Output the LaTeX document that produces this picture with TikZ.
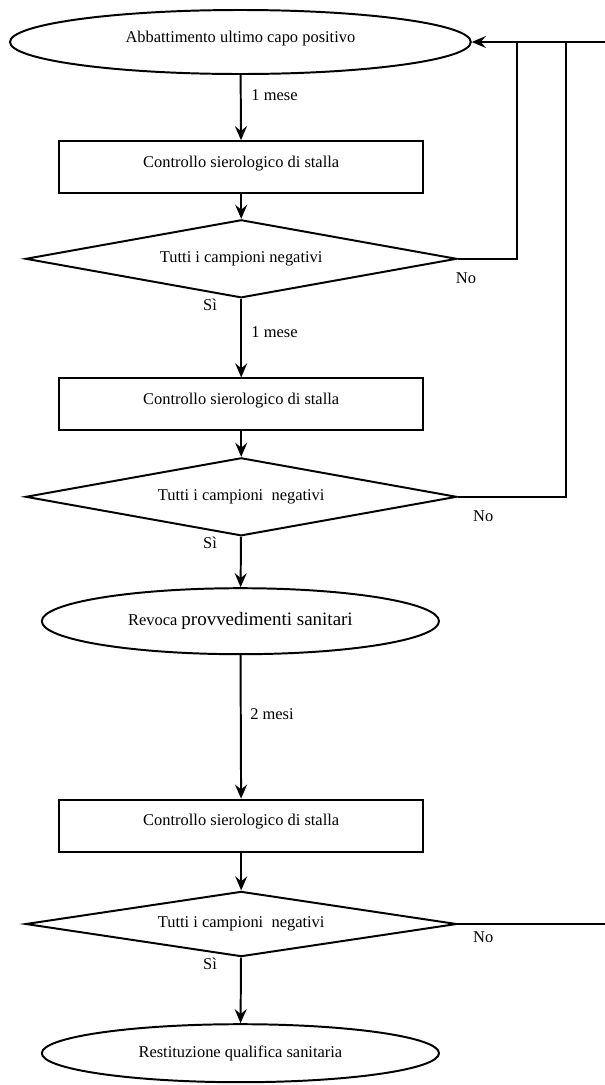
\documentclass[tikz,border=0pt]{standalone}
\usepackage{fontspec}
\setmainfont{Liberation Serif}
\usepackage{tikz}
\usetikzlibrary{shapes.geometric}
\usetikzlibrary{arrows.meta}
\pgfdeclarelayer{edgelayer}
\pgfdeclarelayer{nodelayer}
\pgfsetlayers{edgelayer,nodelayer,main}
\tikzstyle{every node}=[font=\fontsize{11.7}{14}\selectfont]
\tikzstyle{none}=[inner sep=0pt]
\tikzstyle{terminal}=[ellipse,fill=white,draw=black,line width=1.4pt,inner sep=0pt]
\tikzstyle{process}=[rectangle,fill=white,draw=black,line width=1.4pt,minimum width=9.1cm,minimum height=1.3cm,inner sep=0pt,text depth=8pt]
\tikzstyle{decision}=[diamond,fill=white,draw=black,line width=1.4pt,minimum width=10.78cm,minimum height=1.95cm,shape aspect=5.5,inner sep=0pt]
\tikzstyle{flow}=[-{Stealth[length=10pt,width=8.5pt,inset=3.5pt]},draw=black,line width=1.4pt]
\tikzstyle{simple}=[-,draw=black,line width=1.4pt]

\begin{document}
\begin{tikzpicture}
	\useasboundingbox (0, 0) rectangle (15.125, -27.125);
	\begin{pgfonlayer}{nodelayer}
		\node [style=terminal, minimum width=11.52cm, minimum height=1.6cm, text depth=8pt] (0) at (6.01, -1.05) {Abbattimento ultimo capo positivo};
		\node [style=process] (1) at (6.03, -4.18) {Controllo sierologico di stalla};
		\node [style=decision] (2) at (6.03, -6.47) {Tutti i campioni negativi};
		\node [style=process] (3) at (6.03, -10.11) {Controllo sierologico di stalla};
		\node [style=decision] (4) at (6.03, -12.42) {Tutti i campioni\ \ negativi};
		\node [style=terminal, minimum width=9.93cm, minimum height=1.65cm] (5) at (6.01, -15.53) {Revoca {\fontsize{13.5}{15}\selectfont provvedimenti sanitari}};
		\node [style=process] (6) at (6.03, -20.64) {Controllo sierologico di stalla};
		\node [style=decision, minimum height=1.63cm] (7) at (6.03, -23.1) {Tutti i campioni\ \ negativi};
		\node [style=terminal, minimum width=9.93cm, minimum height=1.45cm] (8) at (6.01, -26.33) {Restituzione qualifica sanitaria};
		\node [style=none, anchor=west] (9) at (6.28, -2.38) {1 mese};
		\node [style=none] (10) at (11.65, -6.95) {No};
		\node [style=none] (11) at (5.25, -7.63) {Sì};
		\node [style=none, anchor=west] (12) at (6.28, -8.3) {1 mese};
		\node [style=none] (13) at (12.08, -12.9) {No};
		\node [style=none] (14) at (5.25, -13.58) {Sì};
		\node [style=none, anchor=west] (15) at (6.25, -17.85) {2 mesi};
		\node [style=none] (16) at (12.08, -23.43) {No};
		\node [style=none] (17) at (5.25, -24.1) {Sì};
		\node [style=none] (18) at (12.93, -6.47) {};
		\node [style=none] (19) at (12.93, -1.05) {};
		\node [style=none] (20) at (14.15, -12.42) {};
		\node [style=none] (21) at (14.15, -1.05) {};
		\node [style=none] (22) at (15.125, -1.05) {};
		\node [style=none] (23) at (15.125, -23.1) {};
	\end{pgfonlayer}
	\begin{pgfonlayer}{edgelayer}
		\draw [style=flow] (0) to (1);
		\draw [style=flow] (1) to (2);
		\draw [style=flow] (2) to (3);
		\draw [style=flow] (3) to (4);
		\draw [style=flow] (4) to (5);
		\draw [style=flow] (5) to (6);
		\draw [style=flow] (6) to (7);
		\draw [style=flow] (7) to (8);
		\draw [style=simple] (2) -- (18.center) -- (19.center);
		\draw [style=simple] (4) -- (20.center) -- (21.center);
		\draw [style=simple] (7) to (23.center);
		\draw [style=flow] (22.center) to (0);
	\end{pgfonlayer}
\end{tikzpicture}
\end{document}
